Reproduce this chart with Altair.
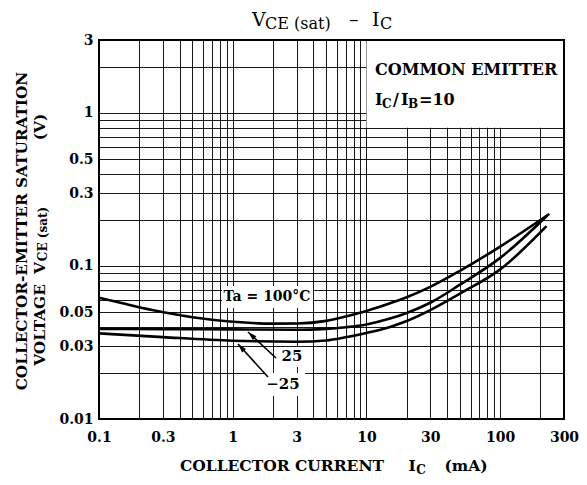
import math
import altair as alt
import pandas as pd

# ---------------- data ----------------
IC_100 = [0.1, 0.15, 0.25, 0.5, 1, 2, 3, 5, 7, 10, 15, 20, 30, 50, 100, 233]
VCE_100 = [0.062, 0.057, 0.0515, 0.0462, 0.0432, 0.042, 0.0421, 0.0438, 0.0468, 0.0508,
           0.057, 0.0625, 0.073, 0.093, 0.134, 0.219]

IC_25 = [0.1, 0.3, 1, 3, 5, 7, 10, 15, 20, 30, 50, 100, 225]
VCE_25 = [0.0388, 0.0387, 0.0385, 0.0383, 0.0388, 0.0398, 0.0415, 0.0453, 0.0493, 0.0575,
          0.0755, 0.113, 0.214]

IC_M25 = [0.1, 0.3, 1, 3, 5, 7, 10, 15, 20, 30, 50, 100, 222]
VCE_M25 = [0.0363, 0.0343, 0.0325, 0.032, 0.0326, 0.0342, 0.0365, 0.040, 0.0437, 0.0515,
           0.066, 0.095, 0.182]

SERIES = ["100", "25", "-25"]

X_TICK_LABELS = [0.1, 0.3, 1, 3, 10, 30, 100, 300]
Y_TICK_LABELS = [0.01, 0.03, 0.05, 0.1, 0.3, 0.5, 1, 3]
X_GRID = [0.1, 0.2, 0.3, 0.4, 0.5, 0.6, 0.7, 0.8, 0.9,
          1, 2, 3, 4, 5, 6, 7, 8, 9,
          10, 20, 30, 40, 50, 60, 70, 80, 90,
          100, 200, 300]
Y_GRID = [0.01, 0.02, 0.03, 0.04, 0.05, 0.06, 0.07, 0.08, 0.09,
          0.1, 0.2, 0.3, 0.4, 0.5, 0.6, 0.7, 0.8, 0.9,
          1, 2, 3]

LEGEND_BOX_IC = [10, 300]
LEGEND_BOX_V = [0.8, 3]

# ---------------- build table ----------------
rows = []
for name, xs_, ys_ in zip(SERIES, [IC_100, IC_25, IC_M25], [VCE_100, VCE_25, VCE_M25]):
    for a, b in zip(xs_, ys_):
        rows.append({"ic": a, "vce": b, "ta": name})
df = pd.DataFrame(rows)

W, H = 465, 379
FONT = "DejaVu Serif"
ONE = alt.Data(values=[{}])

xsc = alt.Scale(type="log", domain=[0.1, 300], nice=False)
ysc = alt.Scale(type="log", domain=[0.01, 3], nice=False)


def lbl_expr(vals):
    return ("indexof([" + ",".join(str(v) for v in vals) +
            "], datum.value) >= 0 ? '' + datum.value : ''")


x_axis = alt.Axis(values=X_GRID, labelExpr=lbl_expr(X_TICK_LABELS), grid=True,
                  gridColor="black", gridWidth=1, gridOpacity=0.9, ticks=False, tickSize=0,
                  domain=False, labelFont=FONT, labelFontWeight="bold", labelFontSize=14,
                  labelColor="black", labelPadding=11, labelOverlap=False, labelFlush=False,
                  title=None)
y_axis = alt.Axis(values=Y_GRID, labelExpr=lbl_expr(Y_TICK_LABELS), grid=True,
                  gridColor="black", gridWidth=1, gridOpacity=0.9, ticks=False, tickSize=0,
                  domain=False, labelFont=FONT, labelFontWeight="bold", labelFontSize=14,
                  labelColor="black", labelPadding=6, labelOverlap=False, labelFlush=False,
                  title=None)

lines = alt.Chart(df).mark_line(color="black", strokeWidth=2.6, interpolate="monotone").encode(
    x=alt.X("ic:Q", scale=xsc, axis=x_axis),
    y=alt.Y("vce:Q", scale=ysc, axis=y_axis),
    detail="ta:N",
)

box_df = pd.DataFrame({"ic": [LEGEND_BOX_IC[0]], "ic2": [LEGEND_BOX_IC[1]],
                       "vce": [LEGEND_BOX_V[0]], "vce2": [LEGEND_BOX_V[1]]})
legend_box = alt.Chart(box_df).mark_rect(color="white").encode(
    x=alt.X("ic:Q", scale=xsc, axis=x_axis), x2="ic2",
    y=alt.Y("vce:Q", scale=ysc, axis=y_axis), y2="vce2",
)


def txt(s, x, y, size=14, weight="bold", align="left", baseline="middle", angle=None):
    kw = dict(text=s, font=FONT, fontSize=size, fontWeight=weight, align=align,
              baseline=baseline, color="black")
    if angle is not None:
        kw["angle"] = angle
    return alt.Chart(ONE).mark_text(**kw).encode(x=alt.value(x), y=alt.value(y))


def wbox(x, x2, y, y2):
    return alt.Chart(ONE).mark_rect(color="white").encode(
        x=alt.value(x), x2=alt.value(x2), y=alt.value(y), y2=alt.value(y2))


def arrow(x1, y1, x2, y2):
    ang = math.degrees(math.atan2(x2 - x1, -(y2 - y1))) % 360
    shaft = alt.Chart(ONE).mark_rule(color="black", strokeWidth=1.6).encode(
        x=alt.value(x1), y=alt.value(y1), x2=alt.value(x2), y2=alt.value(y2))
    head = alt.Chart(ONE).mark_point(shape="M0,0 L-1.3,4.5 L1.3,4.5 Z", size=16, filled=True,
                                     color="black", opacity=1, angle=ang).encode(
        x=alt.value(x2), y=alt.value(y2))
    return [shaft, head]


frame = alt.Chart(ONE).mark_rect(fillOpacity=0, stroke="black", strokeWidth=2).encode(
    x=alt.value(0), x2=alt.value(W), y=alt.value(0), y2=alt.value(H))

layers = [
    lines,
    legend_box,
    wbox(123, 214, 246, 268),
    wbox(180, 206, 307, 327),
    wbox(165, 206, 333, 356),
    txt("Ta = 100°C", 168, 257, size=14, align="center"),
    txt("25", 193, 316, size=15, align="center"),
    txt("\u221225", 184, 344, size=15, align="center"),
    *arrow(177, 318, 149, 292),
    *arrow(169, 337, 139, 304),
    # legend box text
    txt("COMMON EMITTER", 276, 30, size=16),
    txt("I", 276, 60, size=16),
    txt("C", 283, 64, size=12),
    txt("/", 294, 60, size=16),
    txt("I", 302, 60, size=16),
    txt("B", 309, 64, size=12),
    txt("=10", 320, 60, size=16),
    # title
    txt("V", 153, -14, size=19, weight="normal", baseline="alphabetic"),
    txt("CE (sat)", 166, -11, size=16, weight="normal", baseline="alphabetic"),
    txt("\u2013", 250, -14, size=19, weight="normal", baseline="alphabetic"),
    txt("I", 273, -14, size=19, weight="normal", baseline="alphabetic"),
    txt("C", 281, -11, size=16, weight="normal", baseline="alphabetic"),
    # x title
    txt("COLLECTOR CURRENT", 183, 426, size=15.5, align="center"),
    txt("I", 313, 426, size=15.5, align="center"),
    txt("C", 322, 430, size=12, align="center"),
    txt("(mA)", 367, 426, size=15.5, align="center"),
    # y title
    txt("COLLECTOR-EMITTER SATURATION", -77, 191, size=15.3, align="center", angle=270),
    txt("VOLTAGE", -59, 285, size=15.3, align="center", angle=270),
    txt("V", -59, 228, size=15.3, align="center", angle=270),
    txt("CE (sat)", -56, 194, size=12, align="center", angle=270),
    txt("(V)", -59, 87, size=15.3, align="center", angle=270),
    frame,
]

chart = alt.layer(*layers).properties(
    width=W, height=H,
    padding={"left": 91, "top": 32, "right": 15, "bottom": 58},
    autosize=alt.AutoSizeParams(type="none"),
).configure_view(stroke=None)

chart.save("out.html", embed_options={"renderer": "svg", "actions": False})
